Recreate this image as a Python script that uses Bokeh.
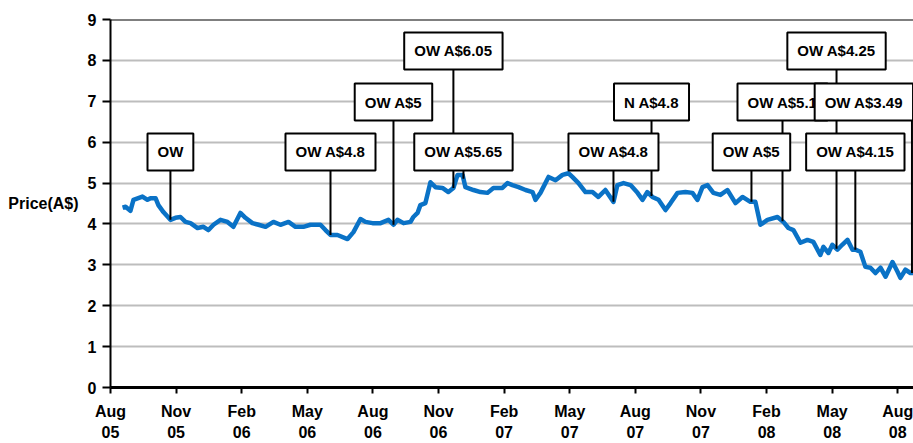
import numpy as np
from bokeh.plotting import figure
from bokeh.models import Label, FixedTicker, Range1d, Span
from bokeh.embed import file_html
from bokeh.resources import INLINE

# months elapsed since the start of Aug 2005
months = [0.55, 0.69, 0.91, 1.05, 1.46, 1.69, 1.83, 2.06, 2.19, 2.42, 2.74, 2.97, 3.20, 3.43, 3.66,
          3.98, 4.25, 4.48, 4.71, 5.03, 5.35, 5.62, 5.94, 6.17, 6.49, 6.77, 7.09, 7.45, 7.77,
          8.14, 8.46, 8.82, 9.14, 9.60, 9.83, 10.06, 10.38, 10.84, 11.11, 11.43, 11.66, 11.98,
          12.35, 12.71, 12.94, 13.12, 13.40, 13.72, 13.85, 14.04, 14.17, 14.40, 14.63, 14.86,
          15.18, 15.45, 15.68, 15.87, 16.10, 16.23, 16.60, 16.92, 17.24, 17.51, 17.92, 18.15,
          18.38, 18.66, 18.98, 19.30, 19.43, 19.66, 20.03, 20.35, 20.67, 20.94, 21.12, 21.40,
          21.72, 22.04, 22.31, 22.63, 23.00, 23.18, 23.46, 23.78, 24.10, 24.33, 24.55, 24.78,
          25.06, 25.38, 25.61, 25.93, 26.29, 26.61, 26.84, 27.07, 27.30, 27.57, 27.89, 28.21,
          28.58, 28.90, 29.26, 29.49, 29.72, 30.04, 30.50, 30.77, 31.00, 31.23, 31.55, 31.87,
          32.14, 32.46, 32.60, 32.83, 33.01, 33.24, 33.46, 33.70, 33.93, 34.06, 34.29, 34.52,
          34.75, 34.98, 35.21, 35.44, 35.76, 35.99, 36.12, 36.35, 36.58, 36.72]
price = [4.40, 4.42, 4.32, 4.59, 4.67, 4.59, 4.63, 4.63, 4.46, 4.29, 4.10, 4.15, 4.17, 4.05, 4.02,
         3.90, 3.93, 3.85, 3.98, 4.10, 4.05, 3.93, 4.27, 4.15, 4.02, 3.98, 3.93, 4.05, 3.98,
         4.05, 3.93, 3.93, 3.98, 3.98, 3.85, 3.73, 3.73, 3.63, 3.80, 4.12, 4.05, 4.02,
         4.02, 4.10, 3.98, 4.10, 4.02, 4.05, 4.17, 4.27, 4.46, 4.51, 5.02, 4.90,
         4.88, 4.78, 4.88, 5.20, 5.20, 4.90, 4.83, 4.78, 4.76, 4.88, 4.88, 5.00,
         4.95, 4.90, 4.83, 4.78, 4.59, 4.76, 5.15, 5.07, 5.20, 5.24, 5.15, 5.00,
         4.78, 4.78, 4.66, 4.83, 4.54, 4.95, 5.00, 4.95, 4.76, 4.59, 4.78, 4.66,
         4.59, 4.34, 4.51, 4.76, 4.78, 4.76, 4.59, 4.90, 4.95, 4.76, 4.71, 4.83,
         4.51, 4.66, 4.54, 4.54, 3.98, 4.10, 4.17, 4.05, 3.90, 3.85, 3.54, 3.61,
         3.56, 3.24, 3.44, 3.29, 3.49, 3.37, 3.49, 3.61, 3.37, 3.37, 3.32, 2.95,
         2.93, 2.80, 2.93, 2.71, 3.07, 2.83, 2.68, 2.88, 2.80, 2.80]

tick_months = list(range(0, 37, 3))
tick_labels = ["Aug\n05", "Nov\n05", "Feb\n06", "May\n06", "Aug\n06", "Nov\n06", "Feb\n07",
               "May\n07", "Aug\n07", "Nov\n07", "Feb\n08", "May\n08", "Aug\n08"]
y_ticks = list(range(0, 10))

ann_labels = ["OW", "OW A$4.8", "OW A$5", "OW A$6.05", "OW A$5.65", "OW A$4.8", "N A$4.8",
              "OW A$5", "OW A$5.1", "OW A$4.25", "OW A$3.49", "OW A$4.15"]
ann_month = [2.74, 10.06, 12.94, 15.68, 16.14, 23.00, 24.74, 29.31, 30.73, 33.20, 36.65, 34.06]
box_month = [2.74, 10.06, 12.94, 15.68, 16.14, 23.00, 24.74, 29.31, 30.73, 33.20, 34.45, 34.06]
ann_row = [1, 1, 2, 3, 1, 1, 2, 1, 2, 3, 2, 1]
ROW_Y = {1: 5.76, 2: 6.98, 3: 8.23}

FONT = "Liberation Sans"
BLUE = "#0a72c6"

p = figure(width=913, height=443, x_range=Range1d(0, 36.72), y_range=Range1d(0, 9),
           output_backend="svg", toolbar_location=None,
           min_border_left=110, min_border_right=0, min_border_top=19, min_border_bottom=55)
p.outline_line_color = None
p.background_fill_color = "white"

# axes
p.xaxis.ticker = FixedTicker(ticks=tick_months)
p.xaxis.major_label_overrides = {m: l for m, l in zip(tick_months, tick_labels)}
p.yaxis.ticker = FixedTicker(ticks=y_ticks)
for ax in (p.xaxis[0], p.yaxis[0]):
    ax.axis_line_color = "black"
    ax.major_tick_line_color = "black"
    ax.major_tick_line_width = 2
    ax.major_tick_in = 0
    ax.minor_tick_line_color = None
    ax.major_label_text_font = FONT
    ax.major_label_text_font_style = "bold"
    ax.major_label_text_font_size = "16px"
    ax.major_label_text_color = "black"
p.xaxis.axis_line_width = 3
p.xaxis.major_tick_out = 6
p.xaxis.major_label_standoff = 9
p.xaxis.major_label_text_line_height = 1.25
p.yaxis.axis_line_width = 2
p.yaxis.major_tick_out = 8
p.yaxis.major_label_standoff = 6

p.xgrid.visible = False
p.ygrid.ticker = FixedTicker(ticks=y_ticks)
p.ygrid.grid_line_color = "#bdbdbd"
p.ygrid.grid_line_width = 2

p.add_layout(Span(location=9, dimension="width", line_color="black", line_width=2))

# price line
p.line(months, price, line_color=BLUE, line_width=4.5, line_join="round")

# connectors (behind boxes)
x_c = np.array(ann_month)
y_top = np.array([ROW_Y[r] for r in ann_row])
y_bot = np.interp(x_c, np.array(months), np.array(price))
p.segment(x0=x_c, y0=y_top, x1=x_c, y1=y_bot, line_color="black", line_width=2)

# boxes
for lab, bx, r in zip(ann_labels, box_month, ann_row):
    p.add_layout(Label(x=bx, y=ROW_Y[r], text=lab, text_align="center", text_baseline="middle",
                       text_font=FONT, text_font_style="bold", text_font_size="15px",
                       text_color="black", background_fill_color="white",
                       border_line_color="black", border_line_width=2, padding=10))

# axis title (horizontal, left of the tick labels)
ya = p.yaxis[0]
ya.axis_label = "Price(A$)"
ya.axis_label_text_font = FONT
ya.axis_label_text_font_style = "bold"
ya.axis_label_text_font_size = "16px"
ya.axis_label_text_color = "black"
ya.axis_label_standoff = 6
try:
    ya.axis_label_orientation = "horizontal"
except AttributeError:
    ya.axis_label = None
    p.add_layout(Label(x=-4.66, y=4.45, text="Price(A$)", text_align="left",
                       text_baseline="middle", text_font=FONT, text_font_style="bold",
                       text_font_size="16px", text_color="black"))

open("out.html", "w").write(file_html(p, INLINE))
